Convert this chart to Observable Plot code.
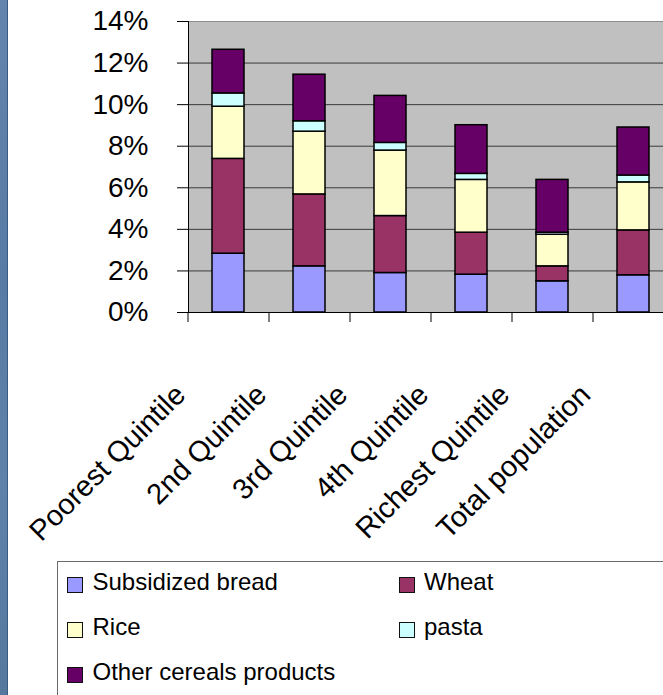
<!DOCTYPE html>
<html>
<head>
<meta charset="utf-8">
<script src="https://cdn.jsdelivr.net/npm/d3@7"></script>
<script src="https://cdn.jsdelivr.net/npm/@observablehq/plot@0.6"></script>
<style>
  html, body { margin: 0; padding: 0; background: #fff; overflow: hidden; width: 663px; height: 695px; }
  body { position: relative; font-family: "Liberation Sans", Arial, Helvetica, sans-serif; }
  #edge { position: absolute; left: 0; top: 0; width: 7px; height: 695px;
          background: linear-gradient(180deg, #6385ae 0%, #587ba5 40%, #5f82ab 70%, #55789f 100%);
          border-right: 1px solid #3b5b85; }
  #chart { position: absolute; left: 0; top: 0; width: 680px; }
  #legend { position: absolute; left: 57px; top: 561px; width: 680px; height: 200px;
            border: 1px solid #6a6a6a; background: #fff; }
  .sw { position: absolute; width: 16px; height: 16px; box-sizing: border-box; border: 1.5px solid #111; }
  .lt { position: absolute; font-size: 24px; line-height: 30px; color: #000; white-space: nowrap; }
</style>
</head>
<body>
<div id="chart"></div>
<div id="edge"></div>
<div id="legend"></div>
<script>
// Cereal consumption shares by expenditure quintile (percent)
const groups = ["Poorest Quintile", "2nd Quintile", "3rd Quintile", "4th Quintile", "Richest Quintile", "Total population"];
const foods = ["Subsidized bread", "Wheat", "Rice", "pasta", "Other cereals products"];
const foodColors = ["#9999FF", "#993366", "#FFFFCC", "#CCFFFF", "#660066"];

const bread = [2.83, 2.22, 1.90, 1.82, 1.50, 1.79];
const wheat = [4.56, 3.46, 2.74, 2.02, 0.72, 2.16];
const rice  = [2.51, 3.02, 3.15, 2.54, 1.52, 2.31];
const pasta = [0.64, 0.50, 0.37, 0.29, 0.10, 0.33];
const other = [2.10, 2.24, 2.26, 2.34, 2.54, 2.31];

const yTicks = [0, 2, 4, 6, 8, 10, 12, 14];

const series = [bread, wheat, rice, pasta, other];
const rows = foods.flatMap((food, k) =>
  groups.map((group, i) => ({group, food, value: series[k][i]}))
);

const svgW = 680, svgH = 560;
const plotLeft = 188, plotTop = 21, plotBottom = 312, plotRight = 674;
const step = (plotRight - plotLeft) / groups.length;

const chart = Plot.plot({
  width: svgW,
  height: svgH,
  marginLeft: plotLeft,
  marginRight: svgW - plotRight,
  marginTop: plotTop,
  marginBottom: svgH - plotBottom,
  style: {fontFamily: "'Liberation Sans', Arial, sans-serif", fontSize: "28px", background: "transparent",
          color: "#000", overflow: "visible", maxWidth: "none"},
  x: {type: "band", domain: groups, paddingInner: 0.6, paddingOuter: 0.3, label: null},
  y: {domain: [0, 14], label: null},
  color: {domain: foods, range: foodColors, legend: false},
  marks: [
    Plot.frame({fill: "#C0C0C0", stroke: null}),
    Plot.gridY(yTicks.filter(d => d > 0 && d < 14), {stroke: "#3a3a3a", strokeOpacity: 1}),
    Plot.gridY([14], {stroke: "#8c8c8c", strokeOpacity: 1}),
    Plot.barY(rows, Plot.stackY({x: "group", y: "value", fill: "food", stroke: "#000", strokeWidth: 1.5})),
    Plot.ruleY([0], {stroke: "#000"}),
    Plot.frame({anchor: "left", stroke: "#000"}),
    Plot.axisY(yTicks, {tickSize: 11, tickPadding: 29, fontSize: 28, tickFormat: d => d + "%", label: null}),
    // category separators below the baseline
    Plot.axisX({tickSize: 10, tickFormat: () => "", dx: -step / 2, label: null}),
    // slanted category names
    Plot.axisX({tickSize: 0, tickPadding: 0, tickRotate: -45, textAnchor: "end", lineAnchor: "middle",
                fontSize: 29, dx: -48, dy: 77.5, label: null})
  ]
});
document.getElementById("chart").appendChild(chart);

// Legend: two columns, rows filled left to right
const legend = document.getElementById("legend");
const baselines = [28.7, 73.3, 118];
const colSwatch = [9.3, 340.5];
const colText = [34.5, 366];
foods.forEach((food, k) => {
  const row = Math.floor(k / 2), col = k % 2;
  const sw = document.createElement("div");
  sw.className = "sw";
  sw.style.left = colSwatch[col] + "px";
  sw.style.top = (baselines[row] - 13.5) + "px";
  sw.style.background = foodColors[k];
  legend.appendChild(sw);
  const t = document.createElement("div");
  t.className = "lt";
  t.style.left = colText[col] + "px";
  t.style.top = (baselines[row] - 23.3) + "px";
  t.textContent = food;
  legend.appendChild(t);
});
</script>
</body>
</html>
